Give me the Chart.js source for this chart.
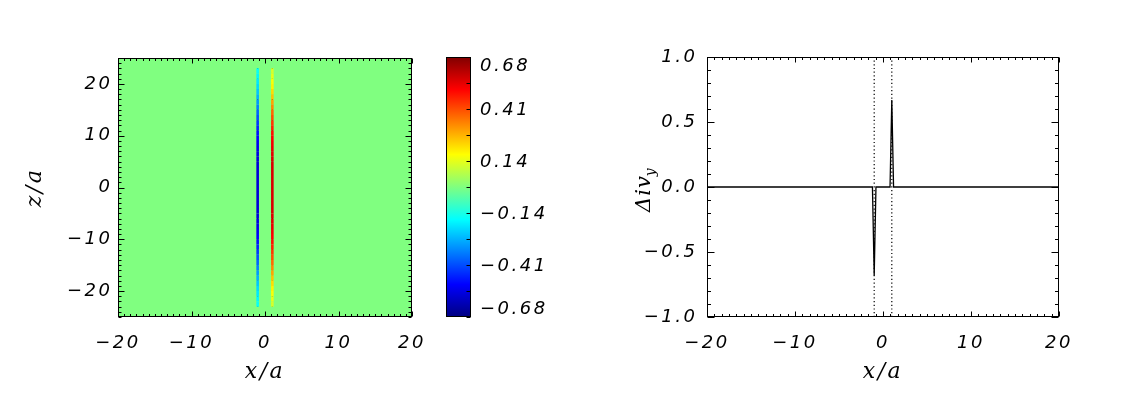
<!DOCTYPE html>
<html><head><meta charset="utf-8">
<script src="https://cdn.jsdelivr.net/npm/chart.js@4.4.0/dist/chart.umd.min.js"></script>
<style>
html,body{margin:0;padding:0;background:#fff;width:1146px;height:407px;overflow:hidden}
canvas{position:absolute;top:0}
#c1{left:0}#c2{left:440px}#c3{left:560px}
</style></head><body>
<canvas id="c1" width="440" height="407"></canvas>
<canvas id="c2" width="120" height="407"></canvas>
<canvas id="c3" width="586" height="407"></canvas>
<script>
// ---------- data ----------
const stripeZ = [23,22,21,20,19,18,17,16,15,14,13,12,11,10,9,8,7,6,5,4,3,2,1,0,-1,-2,-3,-4,-5,-6,-7,-8,-9,-10,-11,-12,-13,-14,-15,-16,-17,-18,-19,-20,-21,-22,-23];
const stripeRed = [0.10,0.13,0.15,0.17,0.20,0.23,0.27,0.31,0.35,0.39,
  0.42,0.45,0.48,0.50,0.52,0.53,0.54,0.55,
  0.56,0.56,0.56,0.56,0.56,0.56,0.56,0.56,0.56,0.56,0.56,
  0.55,0.54,0.53,0.52,0.50,0.48,0.45,0.42,
  0.39,0.35,0.31,0.27,0.23,0.20,0.17,0.15,0.13,0.10];
const stripeBlue = [-0.15,-0.17,-0.19,-0.21,-0.23,-0.26,-0.29,-0.32,-0.36,-0.39,
  -0.42,-0.45,-0.48,-0.50,-0.52,-0.53,-0.54,-0.55,
  -0.56,-0.56,-0.56,-0.56,-0.56,-0.56,-0.56,-0.56,-0.56,-0.56,-0.56,
  -0.55,-0.54,-0.53,-0.52,-0.50,-0.48,-0.45,-0.42,
  -0.39,-0.36,-0.32,-0.29,-0.26,-0.23,-0.21,-0.19,-0.17,-0.15];
const stripeXBlue = -1;
const stripeXRed = 1;
const markerX = [-1, 1];
const profileX = [-20, -1.2, -1, -0.8, 0.8, 1, 1.2, 20];
const profileY = [0, 0, -0.68, 0, 0, 0.67, 0, 0];
const xTickValues = [-20, -10, 0, 10, 20];
const zTickValues = [-20, -10, 0, 10, 20];
const dvTickValues = [-1, -0.5, 0, 0.5, 1];
const cbMin = -0.68, cbMax = 0.68;
const cbTickValues = [0.68, 0.408, 0.136, -0.136, -0.408, -0.68];
const cbTickLabels = ['0.68', '0.41', '0.14', '\u22120.14', '\u22120.41', '\u22120.68'];

// ---------- helpers ----------
function jet(t) {
  const c = v => Math.max(0, Math.min(1, v));
  const r = c(1.5 - Math.abs(4 * t - 3)), g = c(1.5 - Math.abs(4 * t - 2)), b = c(1.5 - Math.abs(4 * t - 1));
  return `rgb(${Math.round(r * 255)},${Math.round(g * 255)},${Math.round(b * 255)})`;
}
const jetVal = v => jet((v - cbMin) / (cbMax - cbMin));
const minus = s => String(s).replace('-', '\u2212');
const tickFont = { family: 'DejaVu Sans', size: 18, style: 'italic' };
const titleFont = { family: 'DejaVu Serif', size: 22, style: 'italic' };

const idlBox = {
  id: 'idlBox',
  beforeDraw(chart, args, o) {
    const ctx = chart.ctx;
    ctx.letterSpacing = '2.5px';
    if (o.fill) {
      const a = chart.chartArea;
      ctx.save(); ctx.fillStyle = o.fill; ctx.fillRect(a.left, a.top, a.width, a.height); ctx.restore();
    }
  },
  afterDraw(chart, args, o) {
    const ctx = chart.ctx, a = chart.chartArea;
    ctx.save();
    ctx.strokeStyle = '#000'; ctx.lineWidth = 1;
    const L = Math.round(a.left) + 0.5, R = Math.round(a.right) - 0.5, T = Math.round(a.top) + 0.5, B = Math.round(a.bottom) - 0.5;
    ctx.beginPath();
    (o.ticks || []).forEach(t => {
      const s = chart.scales[t.scale];
      const step = t.major / t.n;
      const k0 = Math.ceil(s.min / step - 1e-9), k1 = Math.floor(s.max / step + 1e-9);
      for (let k = k0; k <= k1; k++) {
        const p = Math.round(s.getPixelForValue(k * step)) + 0.5;
        const len = (k % t.n === 0) ? t.len : t.len * (t.minorFrac || 0.5);
        t.sides.forEach(side => {
          if (side === 'bottom') { ctx.moveTo(p, B); ctx.lineTo(p, B - len); }
          if (side === 'top') { ctx.moveTo(p, T); ctx.lineTo(p, T + len); }
          if (side === 'left') { ctx.moveTo(L, p); ctx.lineTo(L + len, p); }
          if (side === 'right') { ctx.moveTo(R, p); ctx.lineTo(R - len, p); }
        });
      }
    });
    ctx.stroke();
    ctx.strokeRect(L, T, R - L, B - T);
    if (o.cbLabels) {
      const s = chart.scales.y;
      ctx.fillStyle = '#000';
      ctx.font = 'italic 18px "DejaVu Sans"';
      ctx.textAlign = 'left'; ctx.textBaseline = 'middle';
      cbTickValues.forEach((v, i) => {
        let y = s.getPixelForValue(v);
        y = Math.max(a.top + 9.5, Math.min(a.bottom - 7.5, y + 1.5));
        ctx.fillText(cbTickLabels[i], a.right + 9, y);
      });
    }
    if (o.ytitle) {
      ctx.fillStyle = '#000';
      ctx.letterSpacing = '1px';
      ctx.translate(o.ytitle.x, o.ytitle.y);
      ctx.rotate(-Math.PI / 2);
      ctx.textAlign = 'left'; ctx.textBaseline = 'middle';
      ctx.font = 'italic 21px "DejaVu Serif"';
      ctx.fillText('\u0394', 0, 0);
      let w = ctx.measureText('\u0394').width;
      ctx.fillText('iv', w, 0);
      w += ctx.measureText('iv').width;
      ctx.font = 'italic 14px "DejaVu Serif"';
      ctx.fillText('y', w - 1, 6);
    }
    ctx.restore();
  }
};

const fixedAxis = (w, h) => s => { if (w != null) s.width = w; if (h != null) s.height = h; };

// ---------- left: map ----------
const stripeData = x => stripeZ.map(z => ({ x: x, y: z }));
const markerData = x => [{ x: x, y: stripeZ[0] }, { x: x, y: stripeZ[stripeZ.length - 1] }];
new Chart(document.getElementById('c1'), {
  type: 'scatter',
  data: {
    datasets: [
      { data: stripeData(stripeXBlue), showLine: true, pointRadius: 0, borderWidth: 2.6, borderCapStyle: 'butt',
        segment: { borderColor: c => jetVal((stripeBlue[c.p0DataIndex] + stripeBlue[c.p1DataIndex]) / 2) } },
      { data: stripeData(stripeXRed), showLine: true, pointRadius: 0, borderWidth: 2.6, borderCapStyle: 'butt',
        segment: { borderColor: c => jetVal((stripeRed[c.p0DataIndex] + stripeRed[c.p1DataIndex]) / 2) } },
      ...markerX.map(x => ({ data: markerData(x), showLine: true, pointRadius: 0, borderWidth: 1.3,
        borderColor: 'rgba(10,10,10,0.9)', borderDash: [1.3, 2.1] }))
    ]
  },
  options: {
    responsive: false, animation: false, events: [],
    layout: { padding: { top: 58, right: 28, left: 0, bottom: 0 } },
    plugins: { legend: { display: false }, tooltip: { enabled: false },
      idlBox: { fill: jetVal(0), ticks: [
        { scale: 'x', major: 10, n: 12, len: 5, sides: ['bottom', 'top'] },
        { scale: 'y', major: 10, n: 10, len: 6, sides: ['left', 'right'] }] } },
    scales: {
      x: { type: 'linear', min: -20, max: 20, afterFit: fixedAxis(null, 90),
        afterBuildTicks: s => { s.ticks = xTickValues.map(v => ({ value: v })); },
        grid: { display: false, drawTicks: false }, border: { display: false },
        ticks: { font: tickFont, color: '#000', padding: 16, maxRotation: 0, callback: v => minus(v) },
        title: { display: true, text: 'x/a', font: titleFont, color: '#000', padding: { top: 0, bottom: 22 } } },
      y: { type: 'linear', min: -25, max: 25, afterFit: fixedAxis(118, null),
        afterBuildTicks: s => { s.ticks = zTickValues.map(v => ({ value: v })); },
        grid: { display: false, drawTicks: false }, border: { display: false },
        ticks: { font: tickFont, color: '#000', padding: 5.5, callback: v => minus(v) },
        title: { display: true, text: 'z/a', font: titleFont, color: '#000', padding: { top: 22, bottom: 0 } } }
    }
  },
  plugins: [idlBox]
});

// ---------- colorbar ----------
new Chart(document.getElementById('c2'), {
  type: 'bar',
  data: { labels: [''], datasets: [{ data: [[cbMin, cbMax]], barPercentage: 1, categoryPercentage: 1, borderWidth: 0,
    backgroundColor: c => {
      const ca = c.chart.chartArea; if (!ca) return '#888';
      const g = c.chart.ctx.createLinearGradient(0, ca.bottom, 0, ca.top);
      [0, 0.125, 0.375, 0.625, 0.875, 1].forEach(t => g.addColorStop(t, jet(t)));
      return g;
    } }] },
  options: {
    responsive: false, animation: false, events: [],
    layout: { padding: { top: 57, left: 6, right: 0, bottom: 90 } },
    plugins: { legend: { display: false }, tooltip: { enabled: false },
      idlBox: { cbLabels: true, ticks: [{ scale: 'y', major: 0.136, n: 1, len: 4, sides: ['right'] }] } },
    scales: {
      x: { display: false },
      y: { position: 'right', min: cbMin, max: cbMax, afterFit: fixedAxis(89, null),
        grid: { display: false, drawTicks: false }, border: { display: false }, ticks: { display: false } }
    }
  },
  plugins: [idlBox]
});

// ---------- right: profile ----------
const markerDataR = x => [{ x: x, y: -1 }, { x: x, y: 1 }];
new Chart(document.getElementById('c3'), {
  type: 'scatter',
  data: {
    datasets: [
      ...markerX.map(x => ({ data: markerDataR(x), showLine: true, pointRadius: 0, borderWidth: 1.2,
        borderColor: '#000', borderDash: [1.2, 2.5] })),
      { data: profileX.map((x, i) => ({ x: x, y: profileY[i] })), showLine: true, pointRadius: 0,
        borderWidth: 1.3, borderColor: '#000', tension: 0 }
    ]
  },
  options: {
    responsive: false, animation: false, events: [],
    layout: { padding: { top: 57, right: 87, left: 0, bottom: 0 } },
    plugins: { legend: { display: false }, tooltip: { enabled: false },
      idlBox: { ytitle: { x: 85, y: 212 }, ticks: [
        { scale: 'x', major: 10, n: 12, len: 5, sides: ['bottom', 'top'] },
        { scale: 'y', major: 0.5, n: 5, len: 7, sides: ['left', 'right'] }] } },
    scales: {
      x: { type: 'linear', min: -20, max: 20, afterFit: fixedAxis(null, 90),
        afterBuildTicks: s => { s.ticks = xTickValues.map(v => ({ value: v })); },
        grid: { display: false, drawTicks: false }, border: { display: false },
        ticks: { font: tickFont, color: '#000', padding: 16, maxRotation: 0, callback: v => minus(v) },
        title: { display: true, text: 'x/a', font: titleFont, color: '#000', padding: { top: 0, bottom: 22 } } },
      y: { type: 'linear', min: -1, max: 1, afterFit: fixedAxis(147, null),
        afterBuildTicks: s => { s.ticks = dvTickValues.map(v => ({ value: v })); },
        grid: { display: false, drawTicks: false }, border: { display: false },
        ticks: { font: tickFont, color: '#000', padding: 9.5, callback: v => minus(Number(v).toFixed(1)) } }
    }
  },
  plugins: [idlBox]
});
</script>
</body></html>
